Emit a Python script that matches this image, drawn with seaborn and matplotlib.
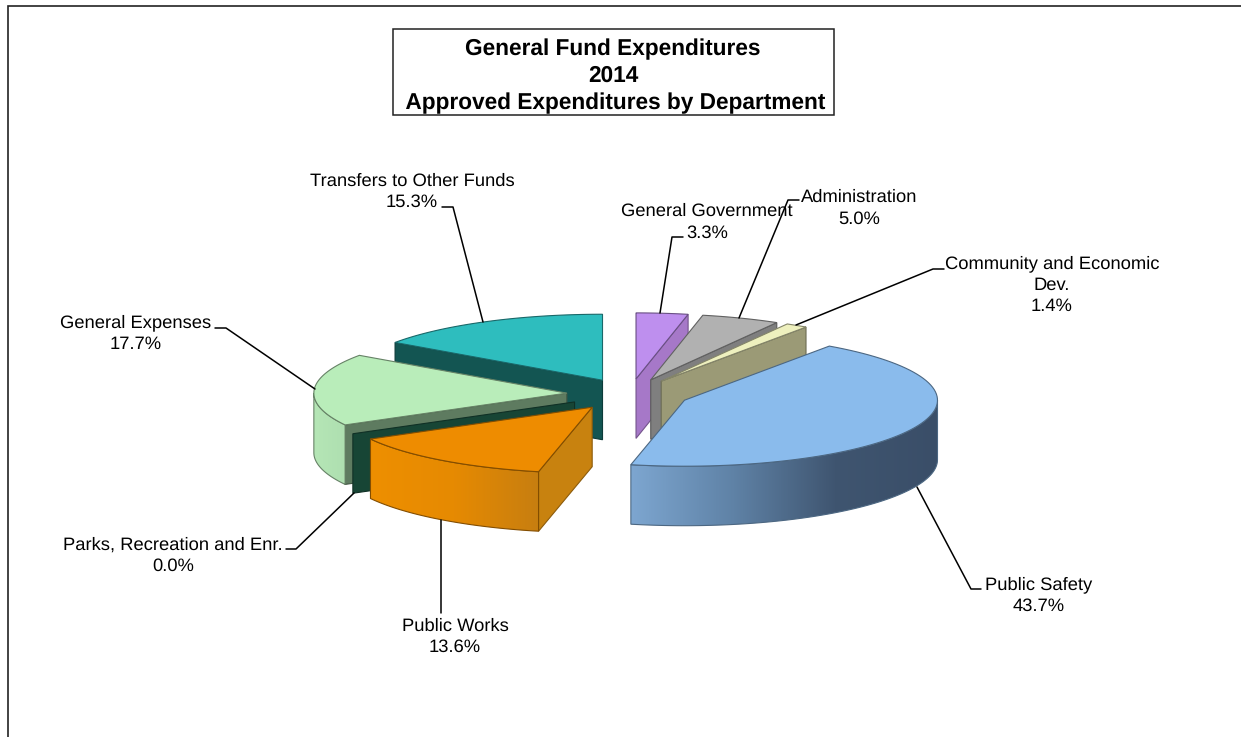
from __future__ import annotations

import matplotlib

matplotlib.use("Agg")
import matplotlib.pyplot as plt
import numpy as np
import seaborn as sns
from matplotlib.patches import Polygon, Rectangle

DEPARTMENTS = [
    "General Government",
    "Administration",
    "Community and Economic\nDev.",
    "Public Safety",
    "Public Works",
    "Parks, Recreation and Enr.",
    "General Expenses",
    "Transfers to Other Funds",
]
SHARES = [3.3, 5.0, 1.4, 43.7, 13.6, 0.0, 17.7, 15.3]
TITLE_LINES = ["General Fund Expenditures", "2014", " Approved Expenditures by Department"]

# pie geometry in pixels
CENTER = (630.0, 394.0)
RX, RY = 253.0, 66.0
DEPTH = 59.5
EXPLODE = [0.23, 0.23, 0.23, 0.235, 0.25, 0.25, 0.25, 0.235]

TOP_COLORS = ["#BE8FEE", "#B1B1B1", "#EEF0BE", "#8ABBEC", "#EE8C00", "#1B4A38", "#B9EDBA", "#2EBDBE"]
SIDE_COLORS = ["#A678C8", "#7F7F7F", "#9B9A76", "#3F5570", "#C8820F", "#174535", "#5E7B60", "#135552"]
WALL_STOPS = {
    3: ["#7DA6D0", "#5F82A6", "#3F5570", "#3A4E68"],
    4: ["#EE8F00", "#E68A02", "#C77E10"],
    6: ["#B5E6B6", "#AEDFB0"],
}
DRAW_ORDER = [7, 0, 1, 2, 6, 5, 4, 3]

# label centre x, y of the block, then leader line points
LABEL_POS = {
    0: (707, 222, [(683, 237), (672, 237), (660, 313)]),
    1: (859, 208, [(799, 200), (788, 200), (739, 318)]),
    2: (1052, 285, [(944, 269), (933, 269), (796, 325)]),
    3: (1039, 595.5, [(981, 589), (971, 589), (917, 487)]),
    4: (455, 636.5, [(441, 613), (441, 520)]),
    5: (173, 555.5, [(286, 549), (296, 549), (354, 493)]),
    6: (136, 333, [(215, 328), (226, 328), (315, 389)]),
    7: (412, 191.5, [(442, 207), (453, 207), (483, 322)]),
}


def rim_points(apex: np.ndarray, angles: np.ndarray) -> np.ndarray:
    rad = np.deg2rad(angles)
    return np.column_stack([apex[0] + RX * np.sin(rad), apex[1] - RY * np.cos(rad)])


def draw_quad(ax, pts, color, edge, z):
    ax.add_patch(Polygon(pts, closed=True, facecolor=color, edgecolor=edge, linewidth=0.8, zorder=z))


def draw_wall(ax, apex, a0, a1, stops, edge, z):
    lo, hi = max(a0, 90.0), min(a1, 270.0)
    if hi <= lo:
        return
    arc = rim_points(apex, np.linspace(lo, hi, 80))
    pts = np.vstack([arc, (arc + [0, DEPTH])[::-1]])
    patch = Polygon(pts, closed=True, facecolor="none", edgecolor=edge, linewidth=0.8, zorder=z + 0.1)
    ax.add_patch(patch)
    cmap = sns.blend_palette(stops, as_cmap=True)
    # colours run from the left end of the wall to the right end
    left, right = pts[:, 0].min(), pts[:, 0].max()
    ramp = np.linspace(0, 1, 256)[None, :]
    im = ax.imshow(ramp, extent=(left, right, pts[:, 1].max(), pts[:, 1].min()), cmap=cmap, aspect="auto", zorder=z)
    im.set_clip_path(patch)


def darker(color, amount=0.55):
    rgb = np.array(matplotlib.colors.to_rgb(color))
    return tuple(rgb * amount)


def main() -> None:
    sns.set_theme(style="white")
    plt.rcParams["font.family"] = ["Liberation Sans", "DejaVu Sans"]
    plt.rcParams["text.hinting"] = "no_hinting"

    fig = plt.figure(figsize=(12.41, 7.37), dpi=100)
    ax = fig.add_axes([0, 0, 1, 1])
    ax.set_axis_off()

    shares = np.array(SHARES)
    edges = np.concatenate([[0.0], np.cumsum(shares)]) / shares.sum() * 360.0

    # outer chart frame, only top and left survive the crop
    ax.plot([7.5, 7.5, 1241], [737, 6, 6], color="#222222", lw=1.2, zorder=1, solid_joinstyle="miter")

    z = 2.0
    for i in DRAW_ORDER:
        a0, a1 = edges[i], edges[i + 1]
        mid = np.deg2rad((a0 + a1) / 2)
        apex = np.array([
            CENTER[0] + EXPLODE[i] * RX * np.sin(mid),
            CENTER[1] - EXPLODE[i] * RY * np.cos(mid),
        ])
        edge = darker(TOP_COLORS[i])

        # cut faces that look toward the viewer
        if np.sin(np.deg2rad(a1)) > 0 or i == 5:
            cut = a0 if i == 5 else a1
        elif np.sin(np.deg2rad(a0)) < 0:
            cut = a0
        else:
            cut = None
        if cut is not None:
            rim = rim_points(apex, np.array([cut]))[0]
            draw_quad(ax, [apex, rim, rim + [0, DEPTH], apex + [0, DEPTH]], SIDE_COLORS[i], darker(SIDE_COLORS[i], 0.7), z)
            z += 1

        if i in WALL_STOPS:
            draw_wall(ax, apex, a0, a1, WALL_STOPS[i], edge, z)
            z += 1

        if a1 > a0:
            arc = rim_points(apex, np.linspace(a0, a1, 80))
            top = np.vstack([apex, arc])
            ax.add_patch(Polygon(top, closed=True, facecolor=TOP_COLORS[i], edgecolor=edge, linewidth=0.8, zorder=z))
            z += 1

    for i, (x, y, leader) in LABEL_POS.items():
        label = f"{DEPARTMENTS[i]}\n{SHARES[i]:.1f}%"
        ax.text(x, y, label, ha="center", va="center", fontsize=13.2, color="black", linespacing=1.36, zorder=z + 2)
        xs, ys = zip(*leader)
        ax.plot(xs, ys, color="black", lw=1.1, zorder=z + 1)

    ax.add_patch(Rectangle((392.5, 29), 441, 86, facecolor="white", edgecolor="#222222", lw=1.1, zorder=z + 1))
    ax.text(613, 76, "\n".join(TITLE_LINES), ha="center", va="center", fontsize=16.3, fontweight="bold",
            color="black", linespacing=1.34, zorder=z + 2)

    ax.set_xlim(0, 1241)
    ax.set_ylim(737, 0)
    fig.savefig("out.png", dpi=100, facecolor="white")
    plt.close(fig)


if __name__ == "__main__":
    main()
